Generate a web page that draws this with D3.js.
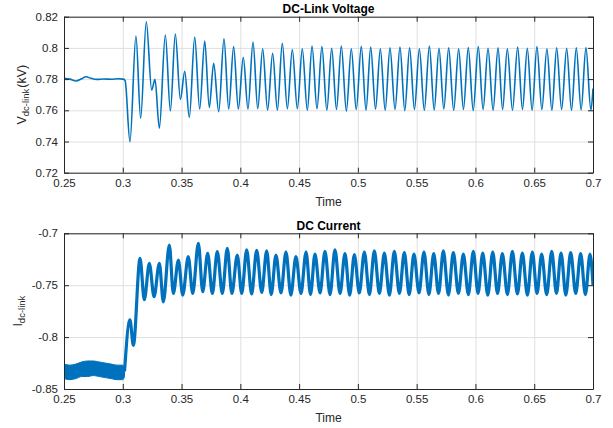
<!DOCTYPE html>
<html>
<head>
<meta charset="utf-8">
<script src="https://cdn.jsdelivr.net/npm/d3@7"></script>
<style>
  body { margin: 0; background: #fff; }
  svg text { font-family: "Liberation Sans", Arial, sans-serif; fill: #262626; }
  .axis path, .axis line { stroke: #262626; }
  .grid line { stroke: #dfdfdf; }
  .grid path { display: none; }
</style>
</head>
<body>
<div id="chart"></div>
<script>
const FRAME_WIDTH = 613;
const FRAME_HEIGHT = 428;

// ---- data ----
const X_TICKS = [0.25, 0.3, 0.35, 0.4, 0.45, 0.5, 0.55, 0.6, 0.65, 0.7];
const V_TICKS = [0.72, 0.74, 0.76, 0.78, 0.8, 0.82];
const I_TICKS = [-0.85, -0.8, -0.75, -0.7];

// dc-link voltage (kV): turning points of the trace
const V_TIME = [0.250, 0.255, 0.2602, 0.2645, 0.2687, 0.273, 0.278, 0.284, 0.290, 0.296, 0.3005, 0.3020,
  0.3061, 0.3112, 0.3152, 0.3200, 0.3246, 0.3274, 0.3311, 0.3362, 0.3405, 0.3447, 0.3490, 0.3527,
  0.3566, 0.3612, 0.3654, 0.3697, 0.3736, 0.3773, 0.3816, 0.3861, 0.3901, 0.3943, 0.3983, 0.4025,
  0.4065, 0.4108, 0.4148, 0.4190, 0.4232, 0.4275, 0.4315, 0.4357, 0.4400, 0.4442, 0.4485, 0.4527,
  0.4570, 0.4610, 0.4652, 0.4694, 0.4736, 0.4777, 0.4818, 0.4859, 0.4902, 0.4944, 0.4986, 0.5029,
  0.5069, 0.5109, 0.5150, 0.5191, 0.5232, 0.5273, 0.5316, 0.5358, 0.5399, 0.5440, 0.5481, 0.5523,
  0.5565, 0.5608, 0.5649, 0.5690, 0.5731, 0.5772, 0.5815, 0.5857, 0.5898, 0.5939, 0.5981, 0.6024,
  0.6065, 0.6107, 0.6150, 0.6192, 0.6231, 0.6271, 0.6315, 0.6359, 0.6400, 0.6441, 0.6482, 0.6523,
  0.6565, 0.6608, 0.6650, 0.6691, 0.6733, 0.6776, 0.6817, 0.6858, 0.6899, 0.6940, 0.6982, 0.7000];
const V_VALUE = [0.7805, 0.7800, 0.7788, 0.7800, 0.7815, 0.7805, 0.7798, 0.7801, 0.7799, 0.7802, 0.7800, 0.7790,
  0.7399, 0.8076, 0.7549, 0.8168, 0.7730, 0.7799, 0.7485, 0.8083, 0.7596, 0.8089, 0.7670, 0.7850,
  0.7555, 0.8070, 0.7608, 0.8044, 0.7619, 0.7901, 0.7591, 0.8059, 0.7608, 0.8008, 0.7608, 0.7940,
  0.7608, 0.8038, 0.7610, 0.7995, 0.7602, 0.7966, 0.7600, 0.8030, 0.7610, 0.7990, 0.7610, 0.7995,
  0.7600, 0.8012, 0.7610, 0.8008, 0.7600, 0.7998, 0.7605, 0.8012, 0.7595, 0.7995, 0.7605, 0.8010,
  0.7600, 0.8005, 0.7608, 0.7995, 0.7600, 0.8000, 0.7605, 0.8005, 0.7598, 0.8000, 0.7605, 0.7995,
  0.7600, 0.8012, 0.7602, 0.7998, 0.7608, 0.8000, 0.7600, 0.7995, 0.7605, 0.8002, 0.7598, 0.8008,
  0.7605, 0.7998, 0.7600, 0.8000, 0.7605, 0.7995, 0.7600, 0.8005, 0.7605, 0.7998, 0.7600, 0.8008,
  0.7605, 0.7995, 0.7600, 0.8000, 0.7605, 0.7998, 0.7600, 0.8000, 0.7602, 0.8002, 0.7600, 0.7740];

// dc current: noisy band before the step (low / high envelope)
const NOISE_TIME = [0.250, 0.255, 0.260, 0.265, 0.270, 0.275, 0.280, 0.285, 0.290, 0.295, 0.300, 0.3015];
const NOISE_LOW = [-0.840, -0.841, -0.840, -0.838, -0.838, -0.837, -0.838, -0.839, -0.840, -0.841, -0.841, -0.838];
const NOISE_HIGH = [-0.826, -0.827, -0.826, -0.824, -0.823, -0.823, -0.824, -0.825, -0.826, -0.827, -0.827, -0.830];

// dc current after the step: turning points
const I_TIME = [0.3015, 0.3061, 0.3090, 0.3147, 0.3183, 0.3226, 0.3266, 0.3311, 0.3345, 0.3396, 0.3430,
  0.3473, 0.3510, 0.3557, 0.3595, 0.3643, 0.3680, 0.3722, 0.3762, 0.3804, 0.3847, 0.3889, 0.3928,
  0.3974, 0.4012, 0.4054, 0.4096, 0.4139, 0.4182, 0.4224, 0.4263, 0.4303, 0.4346, 0.4388, 0.4430,
  0.4473, 0.4516, 0.4559, 0.4597, 0.4635, 0.4678, 0.4720, 0.4763, 0.4805, 0.4848, 0.4890, 0.4930,
  0.4970, 0.5012, 0.5055, 0.5098, 0.5140, 0.5183, 0.5225, 0.5268, 0.5310, 0.5353, 0.5395, 0.5436,
  0.5477, 0.5520, 0.5562, 0.5604, 0.5645, 0.5686, 0.5727, 0.5770, 0.5812, 0.5855, 0.5897, 0.5940,
  0.5982, 0.6022, 0.6062, 0.6105, 0.6147, 0.6188, 0.6229, 0.6272, 0.6314, 0.6357, 0.6399, 0.6442,
  0.6484, 0.6524, 0.6563, 0.6606, 0.6649, 0.6689, 0.6728, 0.6769, 0.6810, 0.6853, 0.6895, 0.6935,
  0.6975, 0.7000];
const I_VALUE = [-0.833, -0.7835, -0.8080, -0.7241, -0.7640, -0.7290, -0.7610, -0.7290, -0.7660, -0.7113, -0.7580,
  -0.7257, -0.7595, -0.7225, -0.7580, -0.7097, -0.7563, -0.7193, -0.7580, -0.7177, -0.7580, -0.7145, -0.7580,
  -0.7210, -0.7580, -0.7160, -0.7585, -0.7165, -0.7570, -0.7170, -0.7590, -0.7210, -0.7575, -0.7180, -0.7595,
  -0.7225, -0.7580, -0.7180, -0.7590, -0.7200, -0.7575, -0.7175, -0.7590, -0.7160, -0.7580, -0.7195, -0.7595,
  -0.7205, -0.7575, -0.7180, -0.7590, -0.7170, -0.7580, -0.7190, -0.7595, -0.7175, -0.7580, -0.7185, -0.7590,
  -0.7200, -0.7575, -0.7180, -0.7590, -0.7195, -0.7580, -0.7170, -0.7595, -0.7185, -0.7580, -0.7200, -0.7590,
  -0.7175, -0.7580, -0.7190, -0.7595, -0.7180, -0.7580, -0.7195, -0.7590, -0.7175, -0.7585, -0.7190, -0.7595,
  -0.7180, -0.7580, -0.7200, -0.7590, -0.7175, -0.7580, -0.7190, -0.7595, -0.7185, -0.7580, -0.7195, -0.7590,
  -0.7200, -0.7500];

// ---- layout ----
const LEFT = 64, RIGHT = 593;
const TOP1 = 16.7, BOTTOM1 = 172.7;
const TOP2 = 233.3, BOTTOM2 = 389;
const LINE_COLOR = "#0072bd";

const FRAME = d3.select("#chart")
  .append("svg")
    .attr("width", FRAME_WIDTH)
    .attr("height", FRAME_HEIGHT);

const fmt = (d) => String(+d.toFixed(2));

function build_panel(top, bottom, yDomain, yTicks, title, clipId) {
  const X_SCALE = d3.scaleLinear().domain([0.25, 0.7]).range([LEFT, RIGHT]);
  const Y_SCALE = d3.scaleLinear().domain(yDomain).range([bottom, top]);

  // grid
  FRAME.append("g").attr("class", "grid")
    .attr("transform", `translate(0,${bottom})`)
    .call(d3.axisBottom(X_SCALE).tickValues(X_TICKS).tickSize(-(bottom - top)).tickFormat(""));
  FRAME.append("g").attr("class", "grid")
    .attr("transform", `translate(${LEFT},0)`)
    .call(d3.axisLeft(Y_SCALE).tickValues(yTicks).tickSize(-(RIGHT - LEFT)).tickFormat(""));

  FRAME.append("clipPath").attr("id", clipId)
    .append("rect")
      .attr("x", LEFT).attr("y", top)
      .attr("width", RIGHT - LEFT).attr("height", bottom - top);

  const plot = FRAME.append("g").attr("clip-path", `url(#${clipId})`);

  // axes with inward ticks, box on
  const axes = [];
  axes.push(FRAME.append("g").attr("class", "axis")
    .attr("transform", `translate(0,${bottom})`)
    .call(d3.axisBottom(X_SCALE).tickValues(X_TICKS).tickSizeInner(-5).tickSizeOuter(0).tickPadding(6).tickFormat(fmt)));
  axes.push(FRAME.append("g").attr("class", "axis")
    .attr("transform", `translate(0,${top})`)
    .call(d3.axisTop(X_SCALE).tickValues(X_TICKS).tickSizeInner(-5).tickSizeOuter(0).tickFormat("")));
  axes.push(FRAME.append("g").attr("class", "axis")
    .attr("transform", `translate(${LEFT},0)`)
    .call(d3.axisLeft(Y_SCALE).tickValues(yTicks).tickSizeInner(-5).tickSizeOuter(0).tickPadding(6).tickFormat(fmt)));
  axes.push(FRAME.append("g").attr("class", "axis")
    .attr("transform", `translate(${RIGHT},0)`)
    .call(d3.axisRight(Y_SCALE).tickValues(yTicks).tickSizeInner(-5).tickSizeOuter(0).tickFormat("")));
  axes.forEach((a) => {
    a.selectAll("text").style("font-size", "11.5px").style("fill", "#262626").style("font-family", "Liberation Sans, Arial, sans-serif");
    a.select(".domain").attr("stroke", "#262626");
  });

  FRAME.append("text")
    .attr("x", (LEFT + RIGHT) / 2).attr("y", top - 3.5)
    .attr("text-anchor", "middle")
    .style("font-size", "12px").style("font-weight", "bold")
    .style("fill", "#000")
    .text(title);

  FRAME.append("text")
    .attr("x", (LEFT + RIGHT) / 2).attr("y", bottom + 33)
    .attr("text-anchor", "middle")
    .style("font-size", "12px")
    .text("Time");

  return {X_SCALE, Y_SCALE, plot};
}

// ---- DC-link voltage ----
const P1 = build_panel(TOP1, BOTTOM1, [0.72, 0.82], V_TICKS, "DC-Link Voltage", "clip1");
const vData = V_TIME.map((t, i) => ({t: t, v: V_VALUE[i]}));
P1.plot.append("path")
  .datum(vData)
  .attr("fill", "none")
  .attr("stroke", LINE_COLOR)
  .attr("stroke-width", 1.6)
  .attr("d", d3.line().curve(d3.curveMonotoneX)
    .x((d) => P1.X_SCALE(d.t))
    .y((d) => P1.Y_SCALE(d.v)));

const vLabel = FRAME.append("text")
  .attr("transform", `translate(26,${(TOP1 + BOTTOM1) / 2}) rotate(-90)`)
  .attr("text-anchor", "middle")
  .style("font-size", "12.5px");
vLabel.append("tspan").text("V");
vLabel.append("tspan").attr("dy", 3).style("font-size", "9.5px").text("dc-link");
vLabel.append("tspan").attr("dy", -3).attr("dx", 1).text("(kV)");

// ---- DC current ----
const P2 = build_panel(TOP2, BOTTOM2, [-0.85, -0.7], I_TICKS, "DC Current", "clip2");
const nData = NOISE_TIME.map((t, i) => ({t: t, lo: NOISE_LOW[i], hi: NOISE_HIGH[i]}));
P2.plot.append("path")
  .datum(nData)
  .attr("fill", LINE_COLOR)
  .attr("stroke", LINE_COLOR)
  .attr("stroke-width", 1)
  .attr("d", d3.area().curve(d3.curveMonotoneX)
    .x((d) => P2.X_SCALE(d.t))
    .y0((d) => P2.Y_SCALE(d.lo))
    .y1((d) => P2.Y_SCALE(d.hi)));

const iData = I_TIME.map((t, i) => ({t: t, v: I_VALUE[i]}));
P2.plot.append("path")
  .datum(iData)
  .attr("fill", "none")
  .attr("stroke", LINE_COLOR)
  .attr("stroke-width", 3.2)
  .attr("stroke-linejoin", "round")
  .attr("d", d3.line().curve(d3.curveMonotoneX)
    .x((d) => P2.X_SCALE(d.t))
    .y((d) => P2.Y_SCALE(d.v)));

const iLabel = FRAME.append("text")
  .attr("transform", `translate(22,${(TOP2 + BOTTOM2) / 2}) rotate(-90)`)
  .attr("text-anchor", "middle")
  .style("font-size", "12.5px");
iLabel.append("tspan").text("I");
iLabel.append("tspan").attr("dy", 3).style("font-size", "9.5px").text("dc-link");
</script>
</body>
</html>
